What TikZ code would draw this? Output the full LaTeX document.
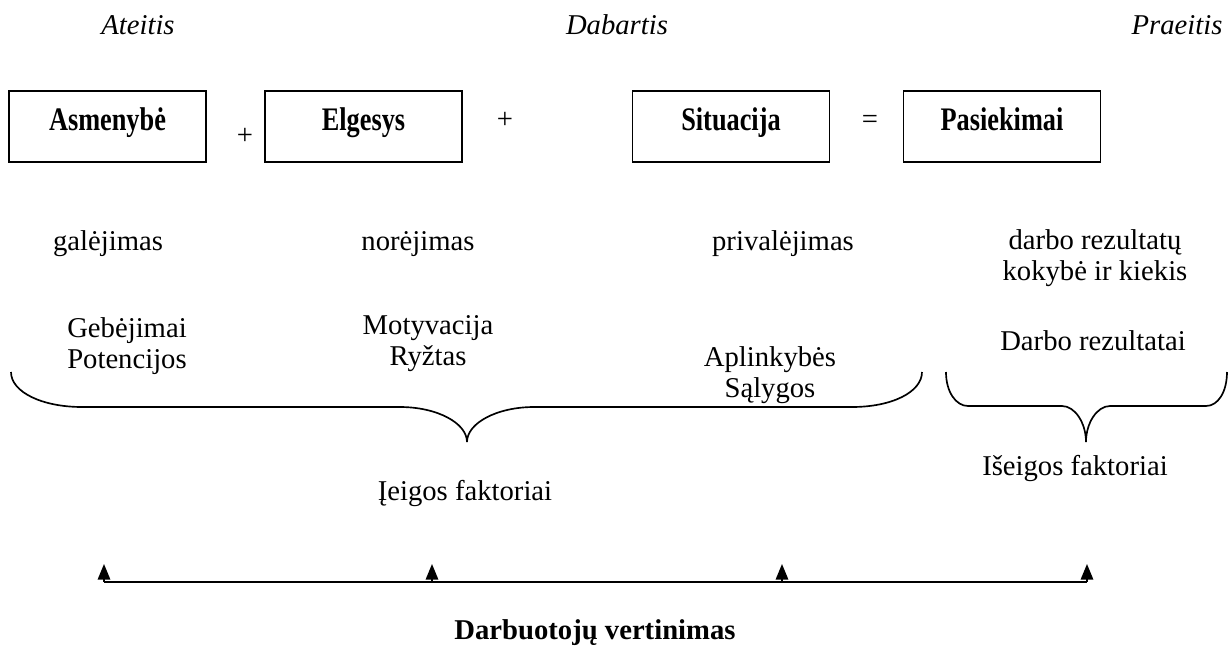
\documentclass[tikz,border=0pt]{standalone}
\usepackage{fontspec}
\setmainfont{Liberation Serif}
\usetikzlibrary{arrows.meta}
\newcommand{\plainsize}{\fontsize{12.9pt}{14pt}\selectfont}
% narrow bold lettering used inside the four boxes
\newcommand{\boxword}[1]{\scalebox{0.8}[1]{#1}}
\begin{document}
\begin{tikzpicture}[x=0.45pt,y=-0.45pt,
  every node/.style={font=\plainsize, inner sep=0pt, align=center,
    execute at begin node=\strut},
  factorbox/.style={draw, line width=0.7pt, minimum width=88.5pt, minimum height=32pt,
    text height=6pt, text depth=2pt,
    font=\fontsize{14.8pt}{14pt}\selectfont\bfseries},
  timelabel/.style={font=\plainsize\itshape},
  bracepath/.style={line width=0.75pt},
  busline/.style={line width=0.9pt},
  uparrow/.style={line width=0.7pt, -{Triangle[length=7pt,width=5.6pt]}}]
\useasboundingbox (0,0) rectangle (1232,649);

% time axis labels
\node[timelabel] (future) at (138,28) {Ateitis};
\node[timelabel] (present) at (617,28) {Dabartis};
\node[timelabel] (past) at (1177,28) {Praeitis};

% the formula boxes
\node[factorbox] (asm) at (107.5,126.5) {\boxword{Asmenybė}};
\node (plusA) at (245,138) {+};
\node[factorbox] (elg) at (363.5,126.5) {\boxword{Elgesys}};
\node (plusB) at (505,122) {+};
\node[factorbox] (sit) at (731,126.5) {\boxword{Situacija}};
\node (eq) at (870,122) {=};
\node[factorbox] (pas) at (1002,126.5) {\boxword{Pasiekimai}};

% second row
\node (gal) at (108,244) {galėjimas};
\node (nor) at (418,244) {norėjimas};
\node (pri) at (783,244) {privalėjimas};
\node (drk) at (1095,260) {darbo rezultatų\\kokybė ir kiekis\strut};

% third row
\node (geb) at (127,348) {Gebėjimai\\Potencijos\strut};
\node (mot) at (428,345) {Motyvacija\\Ryžtas\strut};
\node (apl) at (770,377) {Aplinkybės\\Sąlygos\strut};
\node (dre) at (1093,344) {Darbo rezultatai};

% braces
\draw[bracepath] (11,372) .. controls (11,392) and (42,407) .. (82,407)
  -- (400,407) .. controls (437,407) and (467,423) .. (467,442)
  .. controls (467,423) and (497,407) .. (534,407)
  -- (852,407) .. controls (892,407) and (922,392) .. (922,372);
\draw[bracepath] (946,372) .. controls (946,392) and (956,406) .. (968,406)
  -- (1062,406) .. controls (1075,406) and (1086,423) .. (1086,442)
  .. controls (1086,423) and (1097,406) .. (1110,406)
  -- (1206,406) .. controls (1218,406) and (1227,392) .. (1227,372);

\node (ieig) at (465,494) {Įeigos faktoriai};
\node (iseig) at (1075,469) {Išeigos faktoriai};

% evaluation bus
\coordinate (b1) at (104,582);
\coordinate (b2) at (432,582);
\coordinate (b3) at (782,582);
\coordinate (b4) at (1087,582);
\coordinate (t1) at (104,564);
\coordinate (t2) at (432,564);
\coordinate (t3) at (782,564);
\coordinate (t4) at (1087,564);
\draw[busline] (b1) -- (b4);
\draw[uparrow] (b1) -- (t1);
\draw[uparrow] (b2) -- (t2);
\draw[uparrow] (b3) -- (t3);
\draw[uparrow] (b4) -- (t4);

\node[font=\plainsize\bfseries] (eval) at (595,633) {Darbuotojų vertinimas};
\end{tikzpicture}
\end{document}
